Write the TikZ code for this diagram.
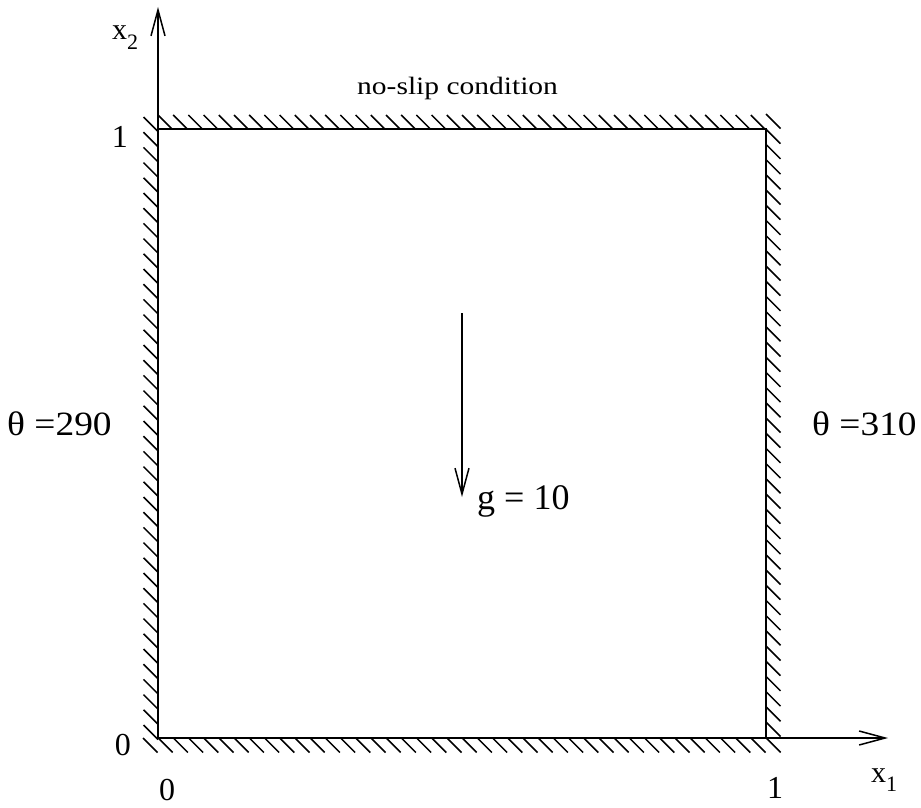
\documentclass[tikz,border=0pt]{standalone}
\usepackage{fontspec}
\setmainfont{Liberation Serif}
\usetikzlibrary{arrows.meta}
\newcommand{\fs}[1]{\fontsize{#1}{#1}\selectfont}
\begin{document}
\begin{tikzpicture}[x=1pt,y=-1pt,
  wall/.style={line width=1.6pt},
  hatch/.style={line width=1.5pt},
  axis/.style={line width=1.6pt,-{Straight Barb[length=26pt,width=14pt,line width=1.5pt]}},
  lbl/.style={inner sep=0pt,anchor=base west},
  num/.style={inner sep=0pt,font=\fs{32}}]
\useasboundingbox (0,0) rectangle (921,808);
% corners
\coordinate (O) at (158,738);
\coordinate (A) at (766,738);
\coordinate (B) at (766,129);
\coordinate (C) at (158,129);
\coordinate (Ytip) at (158,7);
\coordinate (Xtip) at (888,738);
\coordinate (Gtop) at (462,313);
\coordinate (Gtip) at (462,497);
% hatching
\foreach \k in {0,...,39} {\draw[hatch] (158+15.2*\k,115) -- ++(14,14);}
\foreach \k in {0,...,40} {\draw[hatch] (143.5,117+15.2*\k) -- ++(14.5,14.5);}
\foreach \k in {0,...,40} {\draw[hatch] (766,114+15.2*\k) -- ++(14.5,14.5);}
\foreach \k in {0,...,41} {\draw[hatch] (143+15.2*\k,738) -- ++(14.5,14.5);}
% walls and axes
\draw[wall] (C) -- (B) -- (A);
\draw[axis] (O) -- (Ytip);
\draw[axis] (O) -- (Xtip);
\draw[axis] (Gtop) -- (Gtip);
% labels
\node[lbl,font=\fs{30}] (x2) at (112,40) {x\raisebox{-0.33em}{\fs{22}2}};
\node[lbl,font=\fs{30}] (x1) at (871,782) {x\raisebox{-0.33em}{\fs{22}1}};
\node[num,anchor=base east] (l1) at (128,147) {1};
\node[num,anchor=base east] (l0) at (131,755) {0};
\node[num,anchor=base] (b0) at (167,800) {0};
\node[num,anchor=base] (b1) at (775,798) {1};
\node[lbl,font=\fs{34}] (tl) at (7,435) {\scalebox{1.1}[1]{θ =290}};
\node[lbl,font=\fs{34}] (tr) at (812,435) {\scalebox{1.1}[1]{θ =310}};
\node[lbl,font=\fs{25}] (ns) at (357,95) {\scalebox{1.18}[1]{no-slip condition}};
\node[lbl,font=\fs{36}] (g) at (477,509) {g = 10};
\end{tikzpicture}
\end{document}
